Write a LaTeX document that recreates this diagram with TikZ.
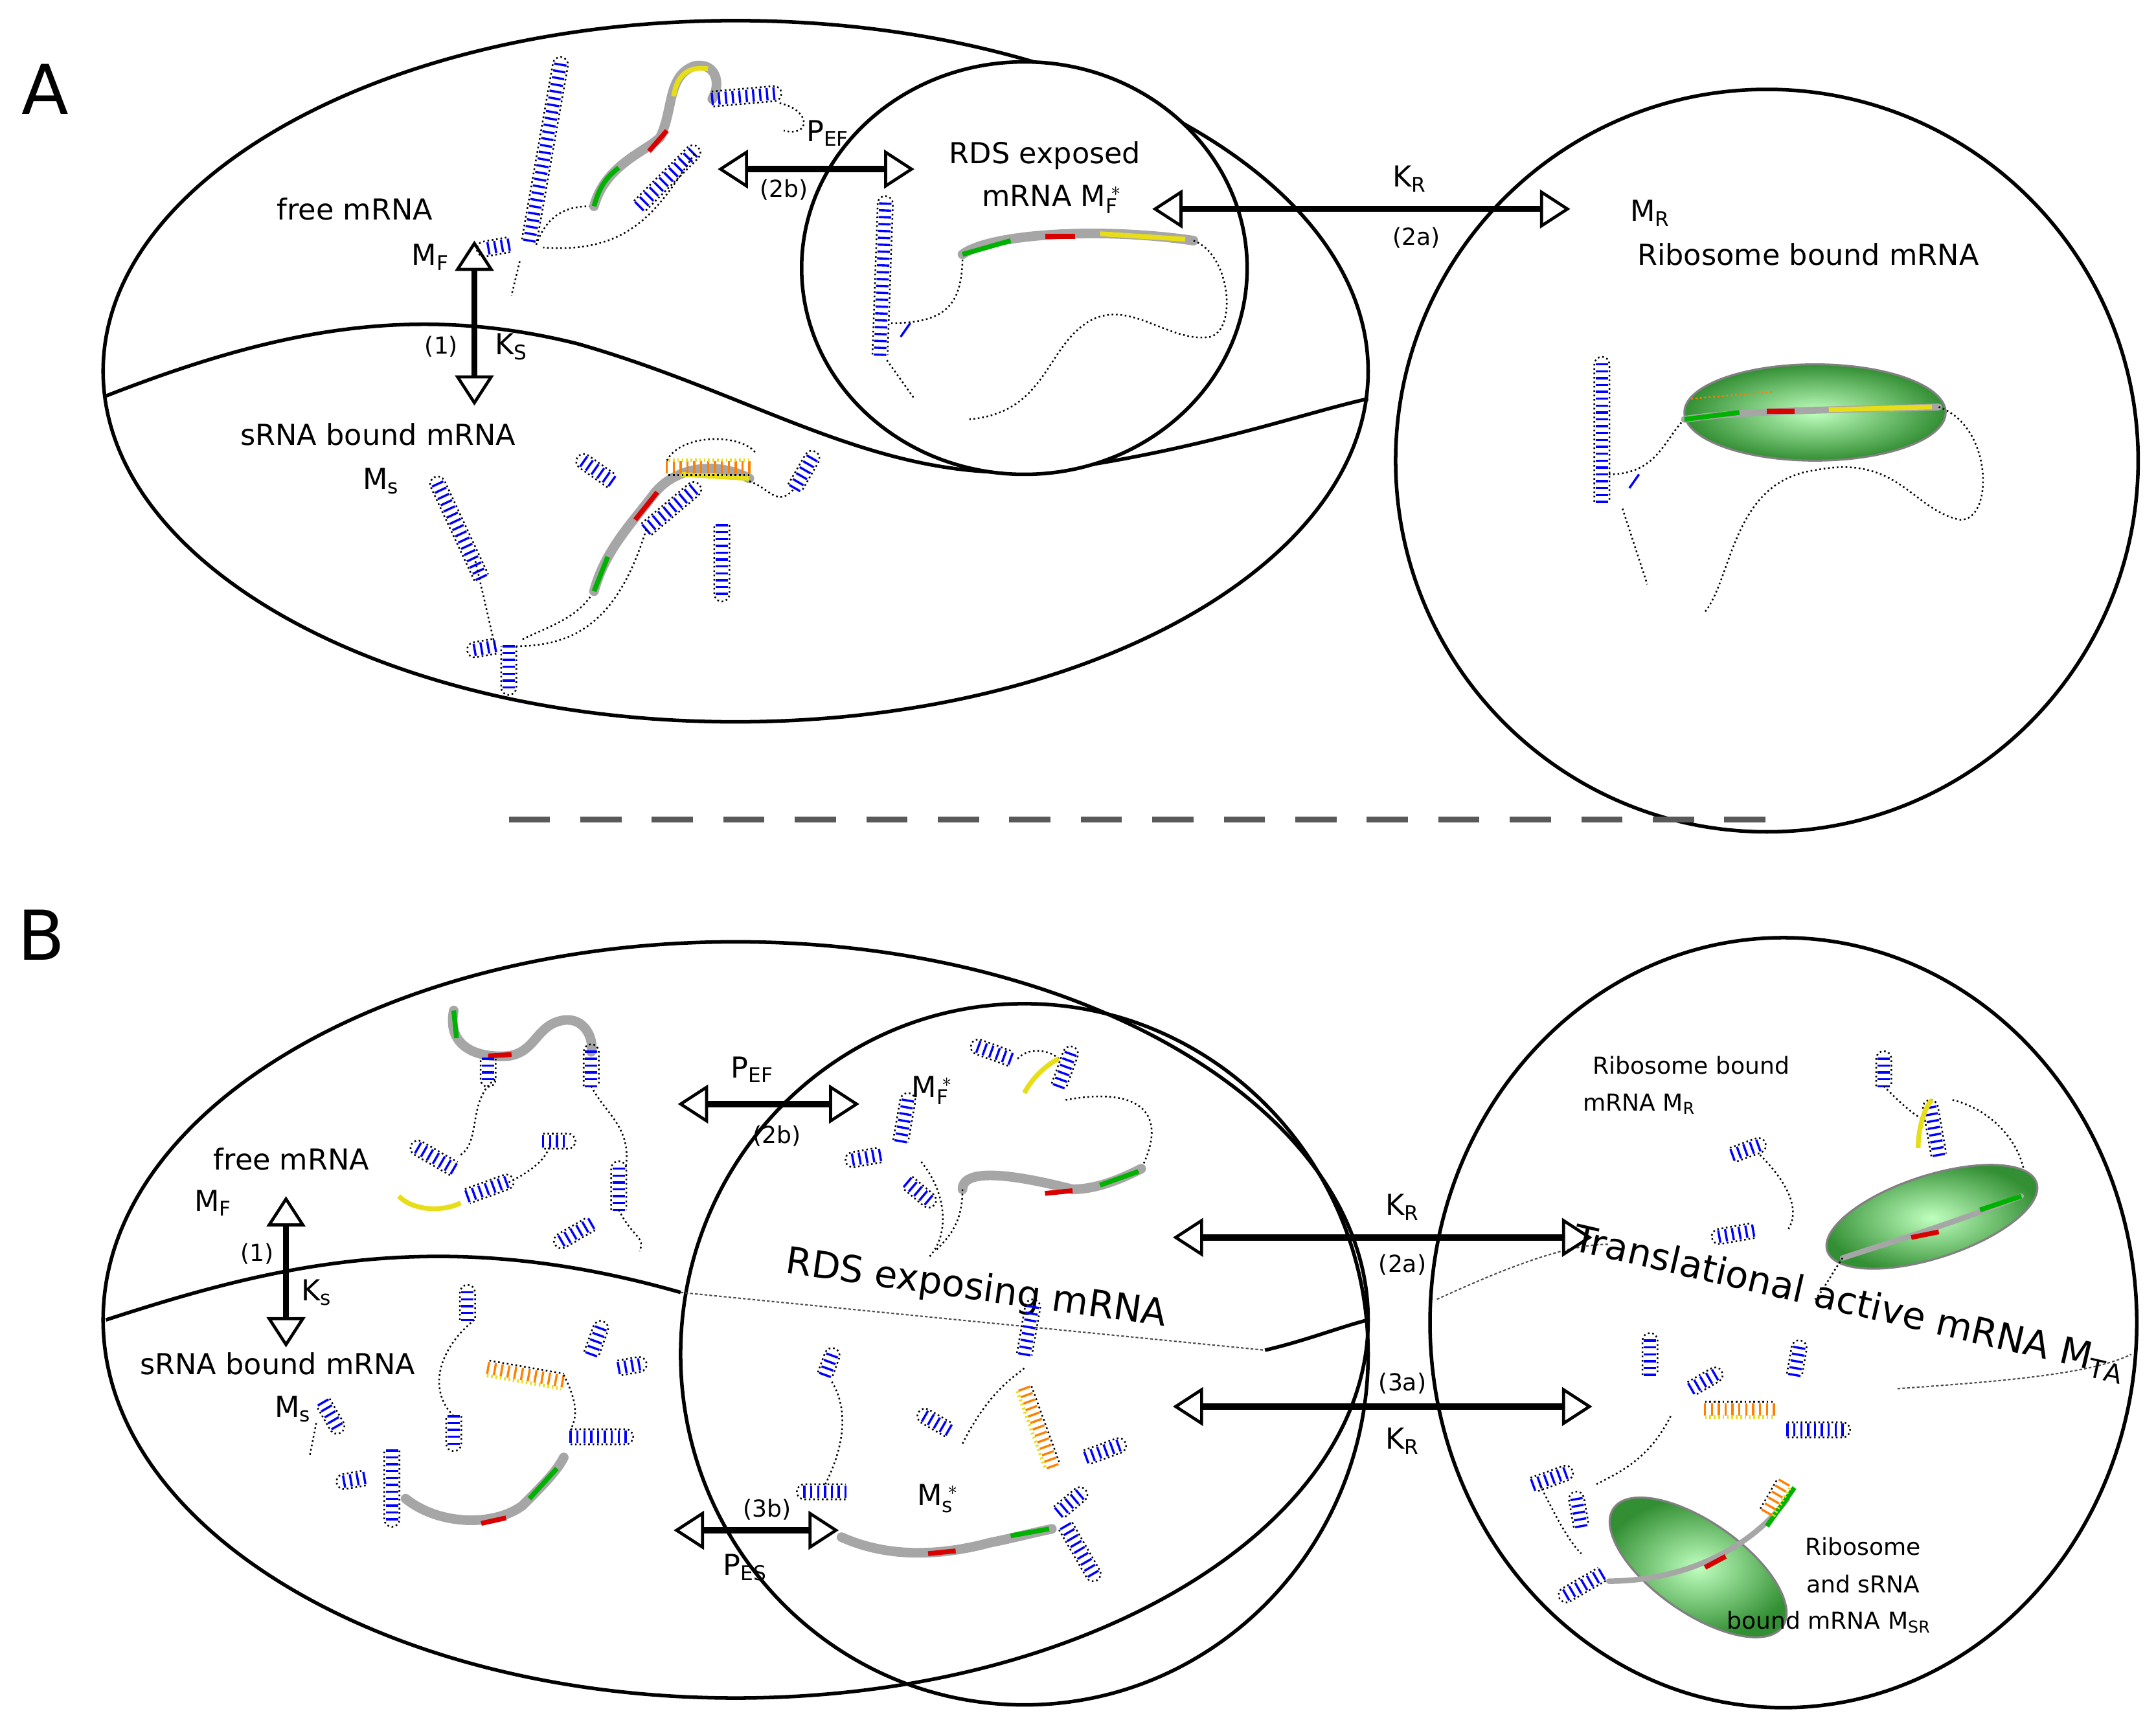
\documentclass[tikz,border=0pt]{standalone}
\usepackage{fontspec}
\setmainfont{DejaVu Sans}
\usetikzlibrary{arrows.meta}
\newcommand{\rstem}[4]{\begin{scope}[shift={(#1,#2)},rotate=-#3]
 \foreach \i in {0,5,...,#4}{\draw[rung] (\i,-4.5)--(\i,4.5);}
 \draw[nt] (0,-5.5)--(#4,-5.5) arc(-90:90:5.5) -- (0,5.5);
\end{scope}}
\newcommand{\ostem}[4]{\begin{scope}[shift={(#1,#2)},rotate=-#3]
 \foreach \i in {0,5,...,#4}{\draw[rung,orange] (\i,-4.5)--(\i,4.5);}
 \draw[nt] (0,-5.5)--(#4,-5.5);\draw[nt,yellow!90!black,line width=2.5] (0,5.5)--(#4,5.5);
\end{scope}}
\newcommand{\ribo}[5]{\shade[inner color=green!25!white,outer color=green!45!black!80,draw=gray,line width=1.5,rotate around={-#5:(#1,#2)}] (#1,#2) ellipse ({#3} and {#4});}
\tikzset{
 nt/.style={black,line width=1.2,dotted},
 rung/.style={blue,line width=1.6},
 hl/.style={gray!70,line width=7,line cap=round},
 gs/.style={green!70!black,line width=3.5},
 rs/.style={red!85!black,line width=3.5},
 ys/.style={yellow!90!black,line width=3.5},
 bnd/.style={black,line width=2.6},
 dar/.style={line width=4.5,{Triangle[open,length=22pt,width=28pt,line width=2.2pt]}-{Triangle[open,length=22pt,width=28pt,line width=2.2pt]}},
 lab/.style={font=\fontsize{21}{25}\selectfont,inner sep=0},
 sl/.style={font=\fontsize{17}{20}\selectfont,inner sep=0},
}
\begin{document}
\begin{tikzpicture}[x=1pt,y=-1pt]
\useasboundingbox (0,0) rectangle (1568,1251);
\fill[white] (0,0) rectangle (1568,1251);
% ================= A ==================
\node[font=\fontsize{50}{55}\selectfont] (labA) at (33,65) {A};
\draw[bnd] (535,270) ellipse (460 and 255);
\draw[bnd] (77,288) .. controls (200,240) and (300,220) .. (420,250) .. controls (560,290) and (650,360) .. (780,340) .. controls (880,325) and (950,300) .. (995,290);
\draw[bnd,fill=white] (745,195) ellipse (162 and 150);
\draw[bnd] (1285,335) ellipse (270 and 270);
\draw[line width=4,gray!70!black,dash pattern=on 30pt off 22pt] (370,596) -- (1305,596);
% arrows A
\coordinate (a1t) at (345,175); \coordinate (a1b) at (345,295);
\draw[dar] (a1t) -- (a1b);
\coordinate (a2l) at (522,123); \coordinate (a2r) at (665,123);
\draw[dar] (a2l) -- (a2r);
\coordinate (a3l) at (838,152); \coordinate (a3r) at (1142,152);
\draw[dar] (a3l) -- (a3r);
% texts A
\node[lab] (tA1) at (258,152) {free mRNA};
\node[lab] (tA2) at (313,187) {M$_\mathrm{F}$};
\node[sl] (tA3) at (321,252) {(1)};
\node[lab] (tA4) at (372,252) {K$_\mathrm{S}$};
\node[lab] (tA5) at (275,316) {sRNA bound mRNA};
\node[lab] (tA6) at (277,350) {M$_\mathrm{s}$};
\node[lab] (tA7) at (602,97) {P$_\mathrm{EF}$};
\node[sl] (tA8) at (570,138) {(2b)};
\node[lab] (tA9) at (760,113) {RDS exposed};
\node[lab] (tA10) at (765,145) {mRNA M$_\mathrm{F}^{\;*}$};
\node[lab] (tA11) at (1025,130) {K$_\mathrm{R}$};
\node[sl] (tA12) at (1030,173) {(2a)};
\node[lab] (tA13) at (1200,155) {M$_\mathrm{R}$};
\node[lab] (tA14) at (1315,185) {Ribosome bound mRNA};
% free mRNA structure A
\rstem{385}{175}{-80}{130}
\rstem{370}{178}{170}{18}
\draw[nt] (378,190) -- (372,215);
\draw[nt] (390,178) .. controls (400,150) and (420,150) .. (432,150);
\draw[hl] (432,150) .. controls (440,120) and (470,110) .. (480,100) .. controls (490,80) and (485,55) .. (505,48) .. controls (520,45) and (525,60) .. (518,72);
\draw[gs] (432,150) .. controls (436,135) and (442,128) .. (450,122);
\draw[rs] (472,110) -- (485,95);
\draw[ys] (490,70) .. controls (492,55) and (500,48) .. (515,50);
\rstem{465}{150}{-45}{55}
\rstem{518}{72}{-5}{45}
\draw[nt] (567,75) .. controls (590,80) and (590,100) .. (570,95);
\draw[nt] (505,112) .. controls (480,150) and (460,185) .. (395,180);
% RDS exposed A
\rstem{640}{258}{-88}{110}
\draw[nt] (645,262) -- (665,290);
\draw[rung] (655,245) -- (662,235);
\draw[nt] (648,235) .. controls (690,235) and (700,220) .. (700,185);
\draw[hl] (700,185) .. controls (720,170) and (800,165) .. (868,175);
\draw[gs] (700,185) -- (735,175);
\draw[rs] (760,172) -- (782,172);
\draw[ys] (800,170) -- (862,174);
\draw[nt] (868,175) .. controls (895,185) and (900,240) .. (880,245) .. controls (850,250) and (820,215) .. (790,235) .. controls (760,255) and (760,300) .. (705,305);
% right circle A
\rstem{1165}{365}{-90}{100}
\draw[nt] (1180,370) -- (1198,425);
\draw[rung] (1185,355) -- (1192,345);
\draw[nt] (1170,345) .. controls (1205,345) and (1210,320) .. (1225,305);
\ribo{1320}{300}{95}{35}{0}
\draw[hl,line width=5] (1225,305) .. controls (1270,298) and (1350,298) .. (1410,296);
\draw[gs] (1225,305) -- (1265,300);
\draw[rs] (1285,299) -- (1305,299);
\draw[ys] (1330,298) -- (1405,296);
\draw[nt,orange] (1230,290) -- (1290,285);
\draw[nt] (1410,296) .. controls (1450,310) and (1450,380) .. (1425,378) .. controls (1390,370) and (1380,330) .. (1320,342) .. controls (1260,350) and (1260,420) .. (1240,445);
% sRNA bound A
\rstem{350}{420}{-115}{75}
\rstem{370}{470}{90}{30}
\rstem{360}{470}{170}{15}
\draw[nt] (380,465) .. controls (400,455) and (420,450) .. (432,430);
\draw[hl] (432,430) .. controls (440,400) and (460,380) .. (475,360) .. controls (490,340) and (520,335) .. (545,348);
\draw[gs] (432,430) -- (442,405);
\draw[rs] (462,378) -- (478,358);
\draw[ys] (495,345) -- (545,348);
\ostem{545}{340}{180}{60}
\draw[nt] (485,335) .. controls (495,315) and (540,315) .. (550,330);
\rstem{525}{382}{90}{50}
\rstem{445}{350}{-145}{25}
\rstem{578}{355}{-60}{25}
\rstem{470}{385}{-40}{45}
\draw[nt] (545,350) .. controls (560,355) and (565,370) .. (578,355);
\draw[nt] (470,385) .. controls (450,450) and (420,470) .. (375,470);
\draw[nt] (345,405) -- (360,470);
% ================= B ==================
\node[font=\fontsize{50}{55}\selectfont] (labB) at (30,680) {B};
\draw[bnd] (535,960) ellipse (460 and 275);
\draw[bnd] (745,985) ellipse (250 and 255);
\draw[bnd] (1297,962) ellipse (257 and 280);
\draw[bnd] (77,960) .. controls (200,920) and (320,890) .. (495,940);
\draw[gray!60!black,line width=1,dash pattern=on 2pt off 1.5pt] (495,940) -- (920,982);
\draw[bnd] (920,982) .. controls (950,975) and (975,965) .. (995,960);
\draw[gray!60!black,line width=1,dash pattern=on 2pt off 1.5pt] (1045,945) .. controls (1100,920) and (1140,905) .. (1170,905);
\draw[gray!60!black,line width=1,dash pattern=on 2pt off 1.5pt] (1380,1010) .. controls (1450,1005) and (1520,1000) .. (1550,985);
\node[font=\fontsize{27}{30}\selectfont,rotate=-13,inner sep=0] (tTA) at (1345,948) {Translational active mRNA M$_\mathrm{TA}$};
% arrows B
\coordinate (b1t) at (208,870); \coordinate (b1b) at (208,980);
\draw[dar] (b1t) -- (b1b);
\coordinate (b2l) at (493,803); \coordinate (b2r) at (625,803);
\draw[dar] (b2l) -- (b2r);
\coordinate (b3l) at (853,900); \coordinate (b3r) at (1158,900);
\draw[dar] (b3l) -- (b3r);
\coordinate (b4l) at (853,1023); \coordinate (b4r) at (1158,1023);
\draw[dar] (b4l) -- (b4r);
\coordinate (b5l) at (490,1113); \coordinate (b5r) at (610,1113);
\draw[dar] (b5l) -- (b5r);
% texts B
\node[lab] (tB1) at (212,843) {free mRNA};
\node[lab] (tB2) at (155,875) {M$_\mathrm{F}$};
\node[sl] (tB3) at (187,912) {(1)};
\node[lab] (tB4) at (230,940) {K$_\mathrm{s}$};
\node[lab] (tB5) at (202,992) {sRNA bound mRNA};
\node[lab] (tB6) at (213,1025) {M$_\mathrm{s}$};
\node[lab] (tB7) at (547,778) {P$_\mathrm{EF}$};
\node[sl] (tB8) at (565,826) {(2b)};
\node[lab] (tB9) at (678,793) {M$_\mathrm{F}^{\;*}$};
\node[font=\fontsize{27}{30}\selectfont,rotate=-8,inner sep=0] (tB10) at (710,938) {RDS exposing mRNA};
\node[lab] (tB11) at (1020,878) {K$_\mathrm{R}$};
\node[sl] (tB12) at (1020,920) {(2a)};
\node[sl] (tB13) at (1020,1006) {(3a)};
\node[lab] (tB14) at (1020,1048) {K$_\mathrm{R}$};
\node[lab] (tB15) at (682,1090) {M$_\mathrm{s}^{\;*}$};
\node[sl] (tB16) at (558,1098) {(3b)};
\node[lab] (tB17) at (542,1140) {P$_\mathrm{ES}$};
\node[sl] (tB18) at (1230,775) {Ribosome bound};
\node[sl] (tB19) at (1192,803) {mRNA M$_\mathrm{R}$};
% free mRNA B
\draw[hl] (330,735) .. controls (325,760) and (345,770) .. (370,768) .. controls (390,765) and (390,745) .. (410,742) .. controls (425,740) and (432,755) .. (430,765);
\draw[gs] (330,735) -- (332,755);
\draw[rs] (355,768) -- (372,767);
\rstem{355}{770}{90}{15}
\draw[nt] (360,785) .. controls (340,800) and (350,830) .. (335,840);
\rstem{330}{850}{-150}{30}
\draw[ys] (290,870) .. controls (300,880) and (320,882) .. (335,875);
\rstem{340}{870}{-20}{30}
\draw[nt] (370,860) .. controls (390,850) and (400,840) .. (400,830);
\rstem{395}{830}{0}{18}
\rstem{430}{790}{-90}{25}
\draw[nt] (430,790) .. controls (440,810) and (460,820) .. (455,850);
\rstem{450}{880}{-90}{30}
\rstem{430}{890}{150}{25}
\draw[nt] (450,880) .. controls (460,900) and (470,900) .. (465,910);
% MF* B
\rstem{655}{830}{-80}{30}
\rstem{640}{840}{170}{20}
\rstem{660}{860}{40}{20}
\draw[nt] (670,845) .. controls (690,870) and (690,900) .. (675,915);
\rstem{735}{770}{-160}{25}
\draw[nt] (740,770) .. controls (750,760) and (765,765) .. (770,770);
\draw[ys] (745,795) .. controls (750,785) and (760,775) .. (770,770);
\rstem{770}{790}{-70}{25}
\draw[nt] (775,800) .. controls (830,790) and (850,810) .. (830,850);
\draw[hl] (700,865) .. controls (700,845) and (760,860) .. (780,865) .. controls (800,865) and (820,855) .. (830,850);
\draw[rs] (760,868) -- (780,866);
\draw[gs] (800,862) -- (828,852);
\draw[nt] (700,865) .. controls (700,890) and (690,900) .. (680,910);
% sRNA bound B
\rstem{340}{960}{-90}{20}
\draw[nt] (345,960) .. controls (320,980) and (310,1010) .. (330,1030);
\ostem{355}{995}{10}{55}
\rstem{430}{985}{-70}{20}
\rstem{450}{995}{-10}{15}
\draw[nt] (410,1000) .. controls (420,1020) and (420,1030) .. (415,1040);
\rstem{415}{1045}{0}{40}
\rstem{330}{1030}{90}{20}
\rstem{235}{1020}{60}{20}
\draw[nt] (230,1035) -- (225,1060);
\rstem{285}{1055}{90}{50}
\rstem{265}{1075}{170}{15}
\draw[hl] (295,1090) .. controls (320,1110) and (360,1110) .. (380,1095) .. controls (395,1080) and (405,1070) .. (410,1060);
\draw[rs] (350,1108) -- (368,1104);
\draw[gs] (385,1090) -- (405,1068);
% Ms* B
\rstem{600}{1000}{-70}{15}
\draw[nt] (605,1005) .. controls (620,1030) and (610,1060) .. (600,1080);
\rstem{615}{1085}{180}{30}
\rstem{690}{1040}{-150}{20}
\draw[nt] (700,1050) .. controls (720,1010) and (740,1000) .. (745,995);
\rstem{745}{985}{-80}{35}
\ostem{745}{1010}{70}{60}
\rstem{790}{1060}{-20}{25}
\draw[hl] (612,1118) .. controls (650,1135) and (690,1130) .. (720,1122) .. controls (740,1118) and (750,1115) .. (765,1112);
\draw[rs] (675,1130) -- (695,1128);
\draw[gs] (735,1117) -- (763,1112);
\rstem{775}{1110}{60}{40}
\rstem{770}{1100}{-40}{20}
% right top B
\rstem{1370}{790}{-90}{20}
\draw[nt] (1370,790) .. controls (1380,800) and (1390,810) .. (1400,815);
\rstem{1410}{840}{-100}{35}
\draw[ys] (1395,835) .. controls (1395,820) and (1400,805) .. (1405,800);
\draw[nt] (1420,800) .. controls (1460,810) and (1480,850) .. (1470,870);
\ribo{1405}{885}{80}{30}{-18}
\draw[hl,line width=4] (1340,915) .. controls (1370,905) and (1420,890) .. (1470,870);
\draw[rs] (1390,900) -- (1410,896);
\draw[gs] (1440,880) -- (1470,870);
\draw[nt] (1340,915) .. controls (1330,930) and (1325,940) .. (1320,945);
\rstem{1260}{840}{-20}{20}
\draw[nt] (1280,840) .. controls (1300,860) and (1310,880) .. (1300,895);
\rstem{1275}{895}{170}{25}
% right bottom B
\rstem{1200}{1000}{-90}{25}
\rstem{1230}{1010}{-30}{20}
\ostem{1240}{1025}{0}{50}
\rstem{1300}{1040}{0}{40}
\rstem{1305}{1000}{-80}{20}
\draw[nt] (1215,1030) .. controls (1200,1060) and (1180,1070) .. (1160,1080);
\rstem{1115}{1080}{-20}{25}
\draw[nt] (1120,1080) .. controls (1130,1100) and (1140,1120) .. (1150,1130);
\rstem{1150}{1110}{-100}{20}
\rstem{1165}{1145}{150}{30}
\ribo{1235}{1140}{75}{33}{35}
\draw[hl,line width=4] (1170,1150) .. controls (1220,1150) and (1270,1130) .. (1300,1090);
\draw[rs] (1240,1140) -- (1255,1132);
\draw[gs] (1285,1110) -- (1305,1082);
\ostem{1285}{1100}{-60}{25}
\node[sl] (tB20) at (1355,1125) {Ribosome};
\node[sl] (tB21) at (1355,1152) {and sRNA};
\node[sl] (tB22) at (1330,1180) {bound mRNA M$_\mathrm{SR}$};
\end{tikzpicture}
\end{document}
